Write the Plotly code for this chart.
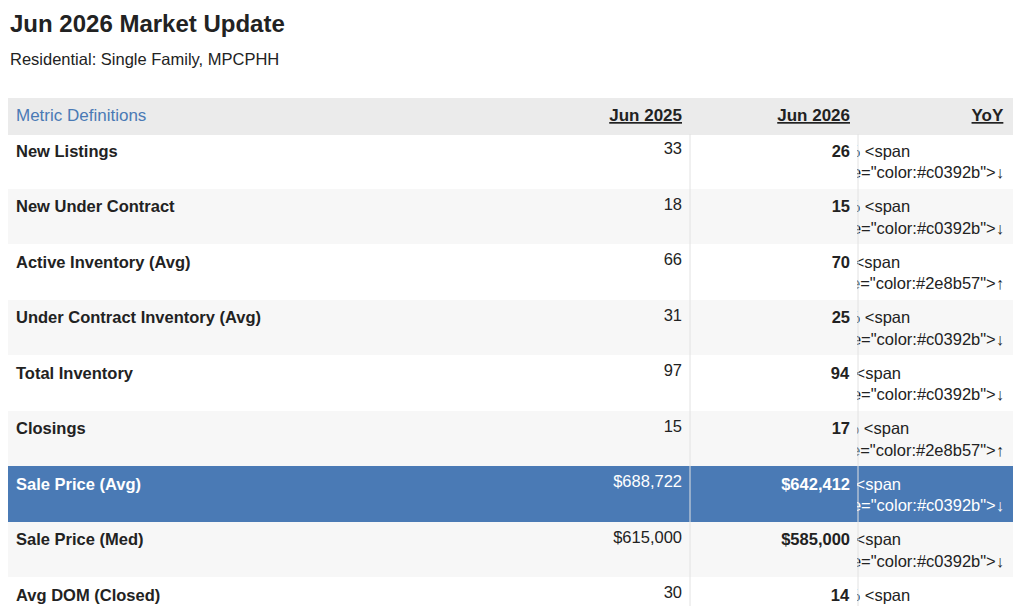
import plotly.graph_objects as go

metrics = ["New Listings", "New Under Contract", "Active Inventory (Avg)",
           "Under Contract Inventory (Avg)", "Total Inventory", "Closings",
           "Sale Price (Avg)", "Sale Price (Med)", "Avg DOM (Closed)",
           "Avg List Price (Active)", "List to Contract (Avg)",
           "Contract to Closed (Avg)", "List to Closed (Avg)", "Months of Supply"]
jun2025 = ["33", "18", "66", "31", "97", "15", "$688,722", "$615,000", "30",
           "$696,683", "124", "34", "172", "5.56"]
jun2026 = ["26", "15", "70", "25", "94", "17", "$642,412", "$585,000", "14",
           "$791,919", "290", "34", "275", "4.79"]
yoy = ["21%", "17%", "6%", "20%", "2%", "13%", "7%", "5%", "53%", "14%",
       "134%", "2%", "60%", "14%"]
direction = ["down", "down", "up", "down", "down", "up", "down", "down",
             "down", "up", "up", "down", "up", "down"]
highlight = 6

UP = "#2e8b57"
DOWN = "#c0392b"
HL = "#4a7ab5"
FONT = "Liberation Sans, Arial"

# the page puts an 8px body margin round the figure, so shift everything by -8
OFF = 8
def px(x):
    return (x - OFF) / 1024
def py(y):
    return 1 - (y - OFF) / 615

n = len(metrics)
fills = []
for i in range(n):
    if i == highlight:
        fills.append(HL)
    elif i % 2 == 0:
        fills.append("white")
    else:
        fills.append("#f7f7f7")
fontcol = ["white" if i == highlight else "#222" for i in range(n)]

yoy_txt = []
for i in range(n):
    c = DOWN if direction[i] == "down" else UP
    arrow = "↓" if direction[i] == "down" else "↑"
    yoy_txt.append(f'{yoy[i]} <span style="color:{c}">{arrow}</span>')

fig = go.Figure(go.Table(
    columnwidth=[512, 170, 168, 154],
    domain=dict(x=[px(8), px(1012)], y=[max(py(606), 0), py(98)]),
    header=dict(
        values=['<span style="color:#4a7ab5">Metric Definitions</span>',
                "<b><u>Jun 2025</u></b>", "<b><u>Jun 2026</u></b>", "<b><u>YoY</u></b>"],
        align=["left", "right", "right", "right"],
        fill_color="#ebebeb",
        line=dict(color="#ebebeb", width=1),
        font=dict(family=FONT, size=17, color="#222"),
        height=36,
    ),
    cells=dict(
        values=[[f"<b>{m}</b>" for m in metrics], jun2025,
                [f"<b>{v}</b>" for v in jun2026], yoy_txt],
        align=["left", "right", "right", "right"],
        fill_color=[fills] * 4,
        line=dict(color=[fills] * 4, width=1),
        font=dict(family=FONT, size=16.5, color=[fontcol] * 4),
        height=33.7,
    ),
))

# light vertical separators between the value columns
for xp in [690, 858]:
    fig.add_shape(type="line", xref="paper", yref="paper",
                  x0=px(xp), x1=px(xp), y0=py(134), y1=py(606),
                  line=dict(color="#e2e2e2", width=1))

fig.add_annotation(text="<b>Jun 2026 Market Update</b>", xref="paper", yref="paper",
                   x=px(8), y=py(8), xanchor="left", yanchor="top", showarrow=False,
                   font=dict(family=FONT, size=24, color="#222"))
fig.add_annotation(text="Residential: Single Family, MPCPHH", xref="paper", yref="paper",
                   x=px(8), y=py(48), xanchor="left", yanchor="top", showarrow=False,
                   font=dict(family=FONT, size=16.5, color="#222"))

fig.update_layout(width=1024, height=615, margin=dict(l=0, r=0, t=0, b=0),
                  paper_bgcolor="white", plot_bgcolor="white")
fig.write_html("out.html")
